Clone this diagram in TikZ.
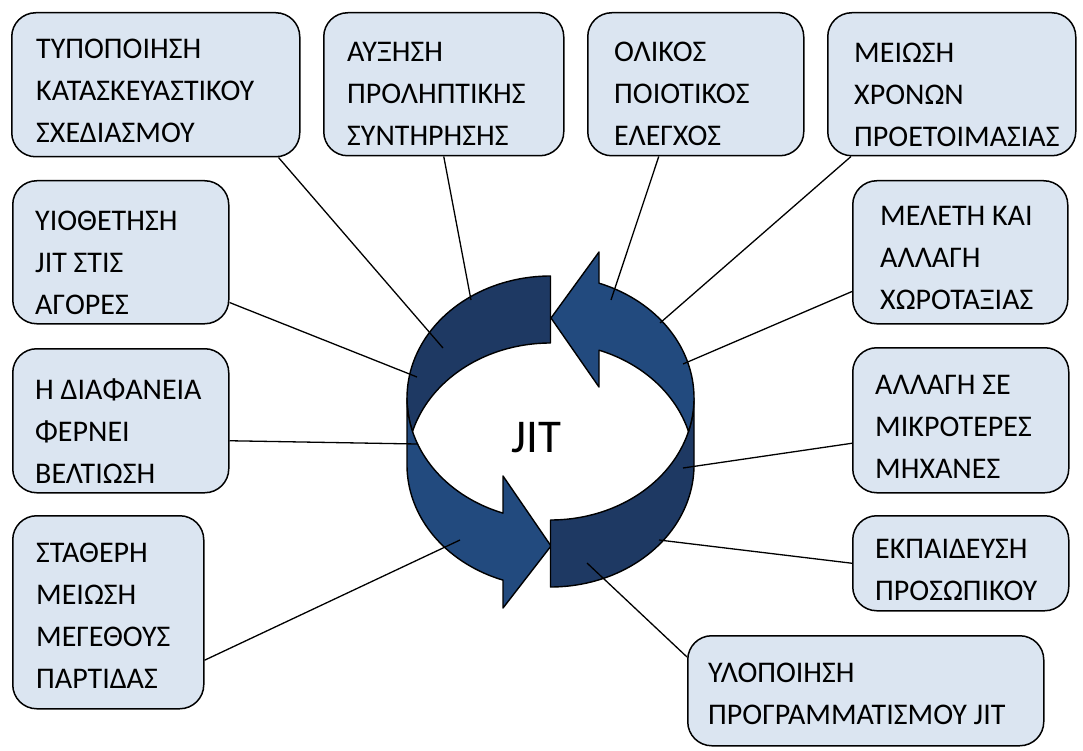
\documentclass[tikz,border=0pt]{standalone}
\usepackage{fontspec}
\setmainfont{Carlito}
\usetikzlibrary{calc}
\definecolor{boxfill}{RGB}{219,229,241}
\definecolor{ringdark}{RGB}{30,57,99}
\definecolor{ringmid}{RGB}{34,74,126}
% ring geometry: a ribbon whose top and bottom edges are ellipses
\def\CX{550.5}\def\RX{143.5}\def\RY{122}\def\YT{398}\def\YB{465}
\begin{document}
\begin{tikzpicture}[x=1pt,y=-1pt,
  card/.style={draw=black, line width=1.5pt, fill=boxfill, rounded corners=24pt,
               inner sep=0pt, anchor=north west},
  lbl/.style={anchor=north west, inner sep=0pt, align=left,
              font=\fontsize{30}{42}\selectfont},
  band/.style={draw=black, line width=1.4pt, line join=round},
  link/.style={draw=black, line width=1.3pt}]
\useasboundingbox (0,0) rectangle (1083,751);
\fill[white] (0,0) rectangle (1083,751);

% upper-left band (dark), back of the ring
\draw[band, fill=ringdark]
  plot[domain=270:164.06, samples=70, variable=\t] ({\CX+\RX*cos(\t)},{\YT+\RY*sin(\t)})
  -- plot[domain=195.94:270, samples=50, variable=\t] ({\CX+\RX*cos(\t)},{\YB+\RY*sin(\t)})
  -- cycle;
% lower-left band with its head pointing right
\draw[band, fill=ringmid]
  ({\CX-\RX},\YT) -- ({\CX-\RX},\YB)
  -- plot[domain=180:109.33, samples=50, variable=\t] ({\CX+\RX*cos(\t)},{\YB+\RY*sin(\t)})
  -- (503,608) -- (551,546) -- (503,476)
  -- plot[domain=109.33:180, samples=50, variable=\t] ({\CX+\RX*cos(\t)},{\YT+\RY*sin(\t)})
  -- cycle;
% lower-right band (dark), front of the ring
\draw[band, fill=ringdark]
  (\CX,{\YT+\RY}) -- (\CX,{\YB+\RY})
  -- plot[domain=90:0, samples=60, variable=\t] ({\CX+\RX*cos(\t)},{\YB+\RY*sin(\t)})
  -- plot[domain=0:90, samples=60, variable=\t] ({\CX+\RX*cos(\t)},{\YT+\RY*sin(\t)})
  -- cycle;
% upper-right band with its head pointing left
\draw[band, fill=ringmid]
  plot[domain=15.94:-70.24, samples=60, variable=\t] ({\CX+\RX*cos(\t)},{\YT+\RY*sin(\t)})
  -- (599,252) -- (551,318) -- (599,387)
  -- plot[domain=-70.24:-15.94, samples=40, variable=\t] ({\CX+\RX*cos(\t)},{\YB+\RY*sin(\t)})
  -- cycle;

\node[font=\fontsize{47}{56}\selectfont, anchor=base west, inner sep=0pt] (jit) at (511,452) {JIT};

% boxes
\node[card, minimum width=288pt, minimum height=144pt] (b1) at (11,12) {};
\node[card, minimum width=240pt, minimum height=143pt] (b2) at (323,12) {};
\node[card, minimum width=216pt, minimum height=143pt] (b3) at (587,12) {};
\node[card, minimum width=248pt, minimum height=143pt] (b4) at (827,12) {};
\node[card, minimum width=216pt, minimum height=143pt] (b5) at (12,180) {};
\node[card, minimum width=215pt, minimum height=143pt] (b6) at (852,180) {};
\node[card, minimum width=216pt, minimum height=144pt] (b7) at (12,348) {};
\node[card, minimum width=216pt, minimum height=145pt] (b8) at (852,347) {};
\node[card, minimum width=191pt, minimum height=193pt] (b9) at (12,515) {};
\node[card, minimum width=216pt, minimum height=95pt] (b10) at (852,515) {};
\node[card, minimum width=356pt, minimum height=110pt] (b11) at (687,635) {};

% attachment points on the ring
\coordinate (p1) at (443,348);
\coordinate (p2) at (471,300);
\coordinate (p3) at (611,300);
\coordinate (p4) at (660,323);
\coordinate (p5) at (417,377);
\coordinate (p6) at (683,364);
\coordinate (p7) at (417,444);
\coordinate (p8) at (683,468);
\coordinate (p9) at (460,540);
\coordinate (p10) at (659,540);
\coordinate (p11) at (587,563);

% connectors
\draw[link] ($(b1.south east)+(-22,0)$) -- (p1);
\draw[link] (b2.south) -- (p2);
\draw[link] ($(b3.south)+(-37,0)$) -- (p3);
\draw[link] ($(b4.south west)+(24,0)$) -- (p4);
\draw[link] ($(b5.south east)+(0,-22)$) -- (p5);
\draw[link] ($(b6.south west)+(0,-33)$) -- (p6);
\draw[link] ($(b7.east)+(0,20)$) -- (p7);
\draw[link] ($(b8.west)+(0,23)$) -- (p8);
\draw[link] ($(b9.east)+(0,48)$) -- (p9);
\draw[link] (b10.west) -- (p10);
\draw[link] ($(b11.north west)+(0,22)$) -- (p11);

% labels
\node[lbl] (t1) at ($(b1.north west)+(25,27)$) {ΤΥΠΟΠΟΙΗΣΗ\\ΚΑΤΑΣΚΕΥΑΣΤΙΚΟΥ\\ΣΧΕΔΙΑΣΜΟΥ};
\node[lbl] (t2) at ($(b2.north west)+(24,30)$) {ΑΥΞΗΣΗ\\ΠΡΟΛΗΠΤΙΚΗΣ\\ΣΥΝΤΗΡΗΣΗΣ};
\node[lbl] (t3) at ($(b3.north west)+(27,30)$) {ΟΛΙΚΟΣ\\ΠΟΙΟΤΙΚΟΣ\\ΕΛΕΓΧΟΣ};
\node[lbl] (t4) at ($(b4.north west)+(27,31)$) {ΜΕΙΩΣΗ\\ΧΡΟΝΩΝ\\ΠΡΟΕΤΟΙΜΑΣΙΑΣ};
\node[lbl] (t5) at ($(b5.north west)+(23,31)$) {ΥΙΟΘΕΤΗΣΗ\\JIT ΣΤΙΣ\\ΑΓΟΡΕΣ};
\node[lbl] (t6) at ($(b6.north west)+(28,26)$) {ΜΕΛΕΤΗ ΚΑΙ\\ΑΛΛΑΓΗ\\ΧΩΡΟΤΑΞΙΑΣ};
\node[lbl] (t7) at ($(b7.north west)+(23,31)$) {Η ΔΙΑΦΑΝΕΙΑ\\ΦΕΡΝΕΙ\\ΒΕΛΤΙΩΣΗ};
\node[lbl] (t8) at ($(b8.north west)+(23,28)$) {ΑΛΛΑΓΗ ΣΕ\\ΜΙΚΡΟΤΕΡΕΣ\\ΜΗΧΑΝΕΣ};
\node[lbl] (t9) at ($(b9.north west)+(24,28)$) {ΣΤΑΘΕΡΗ\\ΜΕΙΩΣΗ\\ΜΕΓΕΘΟΥΣ\\ΠΑΡΤΙΔΑΣ};
\node[lbl] (t10) at ($(b10.north west)+(23,24)$) {ΕΚΠΑΙΔΕΥΣΗ\\ΠΡΟΣΩΠΙΚΟΥ};
\node[lbl] (t11) at ($(b11.north west)+(21,28)$) {ΥΛΟΠΟΙΗΣΗ\\ΠΡΟΓΡΑΜΜΑΤΙΣΜΟΥ JIT};
\end{tikzpicture}
\end{document}
